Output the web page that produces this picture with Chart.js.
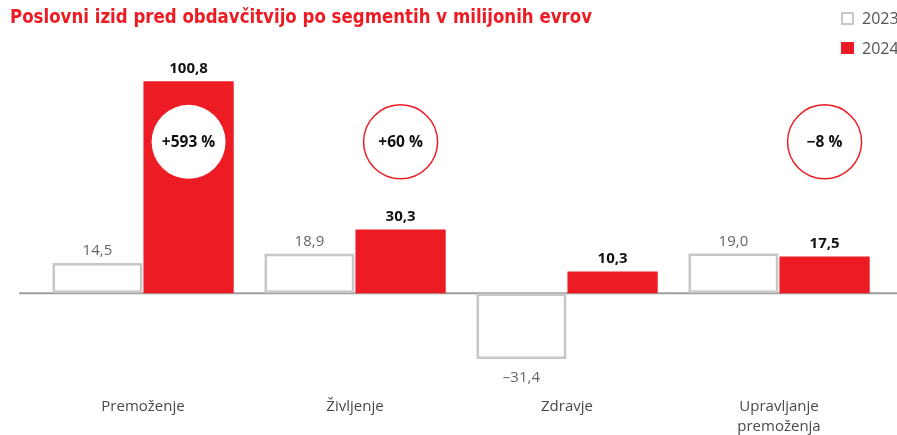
<!DOCTYPE html>
<html>
<head>
<meta charset="utf-8">
<script src="https://cdn.jsdelivr.net/npm/chart.js@4.4.1/dist/chart.umd.min.js"></script>
<style>
  html, body { margin: 0; padding: 0; background: #fff; overflow: hidden; }
  #wrap { position: relative; width: 897px; height: 435px; }
</style>
</head>
<body>
<div id="wrap"><canvas id="c" width="897" height="435"></canvas></div>
<script>
// ---- data ----
const categories = [['Premoženje'], ['Življenje'], ['Zdravje'], ['Upravljanje', 'premoženja']];
const seriesNames = ['2023', '2024'];
const values2023 = [14.5, 18.9, -31.4, 19.0];
const values2024 = [100.8, 30.3, 10.3, 17.5];
const changeLabels = ['+593 %', '+60 %', null, '\u22128 %'];
const titleText = 'Poslovni izid pred obdavčitvijo po segmentih v milijonih evrov';

const RED = '#ed1c24';
const GREY_BORDER = '#c8c8c8';

function fmt(v) {
  const s = Math.abs(v).toFixed(1).replace('.', ',');
  return (v < 0 ? '\u2013' : '') + s;
}

const overlay = {
  id: 'overlay',
  beforeDatasetsDraw(chart) {
    const { ctx, scales } = chart;
    const y0 = scales.y.getPixelForValue(0);
    ctx.save();
    ctx.strokeStyle = '#9d9d9d';
    ctx.lineWidth = 2;
    ctx.beginPath();
    ctx.moveTo(19, y0);
    ctx.lineTo(897, y0);
    ctx.stroke();
    ctx.restore();
  },
  afterDatasetsDraw(chart) {
    const { ctx, scales } = chart;
    ctx.save();
    // title (condensed to the reference width)
    ctx.font = 'bold 20px "Liberation Sans Narrow", "DejaVu Sans Condensed", sans-serif';
    ctx.fillStyle = RED;
    ctx.textAlign = 'left';
    ctx.textBaseline = 'middle';
    const tw = ctx.measureText(titleText).width;
    ctx.save();
    ctx.translate(10, 18);
    ctx.scale(582 / tw, 1);
    ctx.fillText(titleText, 0, 0);
    ctx.restore();

    // legend
    ctx.strokeStyle = GREY_BORDER;
    ctx.lineWidth = 2;
    ctx.strokeRect(842, 13, 11, 11);
    ctx.fillStyle = RED;
    ctx.fillRect(841, 42, 13, 12);
    ctx.font = '16px "Open Sans", sans-serif';
    ctx.fillStyle = '#555';
    ctx.fillText(seriesNames[0], 862, 19);
    ctx.fillText(seriesNames[1], 862, 49);

    // value labels
    const m0 = chart.getDatasetMeta(0), m1 = chart.getDatasetMeta(1);
    ctx.textAlign = 'center';
    m0.data.forEach((bar, i) => {
      const v = values2023[i];
      ctx.font = '15px "Open Sans", sans-serif';
      ctx.fillStyle = '#666';
      if (v >= 0) { ctx.textBaseline = 'bottom'; ctx.fillText(fmt(v), bar.x, bar.y - 4); }
      else { ctx.textBaseline = 'top'; ctx.fillText(fmt(v), bar.x, bar.y + 11); }
    });
    m1.data.forEach((bar, i) => {
      const v = values2024[i];
      ctx.font = 'bold 15px "Open Sans", sans-serif';
      ctx.fillStyle = '#111';
      ctx.textBaseline = 'bottom';
      ctx.fillText(fmt(v), bar.x, bar.y - 5);
    });

    // change circles
    const cy = scales.y.getPixelForValue(72);
    m1.data.forEach((bar, i) => {
      const lbl = changeLabels[i];
      if (!lbl) return;
      ctx.beginPath();
      ctx.arc(bar.x, cy, 37, 0, Math.PI * 2);
      ctx.fillStyle = '#fff';
      ctx.fill();
      if (values2024[i] < 72) {
        ctx.strokeStyle = RED;
        ctx.lineWidth = 1.5;
        ctx.stroke();
      }
      ctx.font = 'bold 15.5px "Open Sans", sans-serif';
      ctx.fillStyle = '#111';
      ctx.textBaseline = 'middle';
      ctx.fillText(lbl, bar.x, cy + 1);
    });
    ctx.restore();
  }
};

new Chart(document.getElementById('c'), {
  type: 'bar',
  data: {
    labels: categories,
    datasets: [
      { label: seriesNames[0], data: values2023, backgroundColor: '#fff', borderColor: GREY_BORDER, borderWidth: 3, borderSkipped: false },
      { label: seriesNames[1], data: values2024, backgroundColor: RED, borderWidth: 0 }
    ]
  },
  options: {
    responsive: false,
    animation: false,
    events: [],
    layout: { padding: { left: 37, right: 12, top: 62, bottom: -14 } },
    categoryPercentage: 0.86,
    barPercentage: 0.99,
    plugins: { legend: { display: false }, title: { display: false }, tooltip: { enabled: false } },
    scales: {
      x: {
        grid: { display: false, drawTicks: false },
        border: { display: false },
        ticks: { padding: 12, color: '#4a4a4a', font: { family: 'Open Sans', size: 15, lineHeight: 1.33 } }
      },
      y: { display: false, min: -43.75, max: 110 }
    }
  },
  plugins: [overlay]
});
</script>
</body>
</html>
